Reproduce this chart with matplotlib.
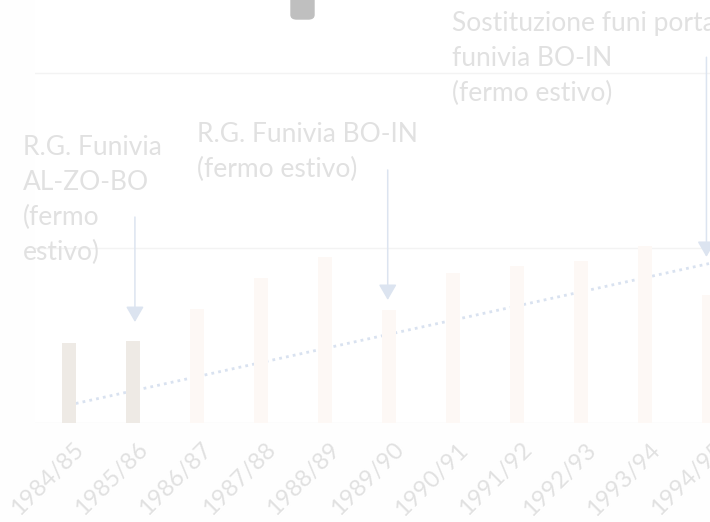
import matplotlib
matplotlib.use("Agg")
import matplotlib.pyplot as plt
from matplotlib.patches import FancyBboxPatch
from matplotlib.transforms import ScaledTranslation
import numpy as np

# dati (scala arbitraria, griglia ogni 100)
stagioni = ["1984/85", "1985/86", "1986/87", "1987/88", "1988/89", "1989/90",
            "1990/91", "1991/92", "1992/93", "1993/94", "1994/95"]
valori = [45.7, 46.9, 65.1, 82.9, 94.9, 64.6, 85.7, 89.7, 92.6, 101.1, 73.1]
colori = ["#eeeae5", "#eeeae5"] + ["#fdf8f5"] * 9
trend_x = [0, 10]
trend_y = [10.3, 91.1]

note = ["R.G. Funivia\nAL-ZO-BO\n(fermo\nestivo)",
        "R.G. Funivia BO-IN\n(fermo estivo)",
        "Sostituzione funi portanti\nfunivia BO-IN\n(fermo estivo)"]
note_pos = [(23, 135), (197, 122), (452, 11)]     # pixel in alto a sinistra
frecce_x = [1.03, 4.98, 9.96]
frecce_da = [117.7, 144.6, 209]
frecce_a = [57.7, 70.3, 94.9]

plt.rcParams["font.family"] = ["Lato", "DejaVu Sans"]
txt = "#e1e1e1"

fig = plt.figure(figsize=(7.1, 5.22), dpi=100)
W, H = 710, 522
ax = fig.add_axes([35 / W, 99 / H, 1 - 35 / W, 423 / H])

x = np.arange(len(stagioni))
ax.plot(trend_x, trend_y, color="#d9e2f0", lw=2, ls=(0, (1, 1.5)), zorder=1)
ax.bar(x, valori, width=0.22, color=colori, zorder=2)

ax.set_xlim(-(69 - 35) / 64, (710 - 69) / 64)
ax.set_ylim(0, 423 / 1.75)
ax.set_yticks([0, 100, 200])
ax.grid(axis="y", color="#f3f3f3", lw=1)
ax.set_axisbelow(True)
for s in ax.spines.values():
    s.set_visible(False)
ax.tick_params(axis="y", left=False, labelleft=False)
ax.tick_params(axis="x", bottom=False, pad=8)
ax.set_xticks(x)
ax.set_xticklabels(stagioni, rotation=45, ha="right", fontsize=17, color=txt)
off = ScaledTranslation(19 / 100, 0, fig.dpi_scale_trans)
for lab in ax.get_xticklabels():
    lab.set_transform(lab.get_transform() + off)

for fx, y0, y1 in zip(frecce_x, frecce_da, frecce_a):
    ax.annotate("", xy=(fx, y1), xytext=(fx, y0),
                arrowprops=dict(arrowstyle="-|>,head_length=0.95,head_width=0.55",
                                color="#dce4f0", lw=1.1, mutation_scale=10,
                                shrinkA=0, shrinkB=0), zorder=3)

for t, (px, py) in zip(note, note_pos):
    fig.text(px / W, 1 - py / H, t, ha="left", va="top", fontsize=19,
             color=txt, linespacing=1.5)

# rettangolo grigio in alto
fig.patches.append(FancyBboxPatch((291 / W, 1 - 19 / H), 23 / W, 40 / H,
                                  boxstyle="round,pad=0,rounding_size=0.008",
                                  transform=fig.transFigure, color="#bfbfbf"))

fig.savefig("out.png", dpi=100, facecolor="#fefefe")
